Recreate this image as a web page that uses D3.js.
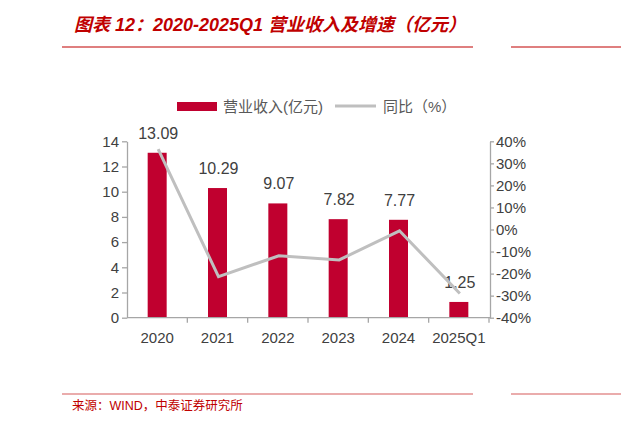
<!DOCTYPE html>
<html><head><meta charset="utf-8">
<script src="https://cdn.jsdelivr.net/npm/d3@7/dist/d3.min.js"></script>
<style>body{margin:0;background:#fff}svg{display:block}</style>
</head><body><svg id="c" width="621" height="425"></svg>
<script>
const categories = ["2020","2021","2022","2023","2024","2025Q1"];
const revenue = [13.09, 10.29, 9.07, 7.82, 7.77, 1.25];
const growth = [36.5, -21.4, -11.9, -13.8, -0.6, -29.0];
const leftTicks = [0,2,4,6,8,10,12,14];
const rightTicks = [-40,-30,-20,-10,0,10,20,30,40];

const svg = d3.select("#c");
const red = "#C0002F", txt = "#404040", axc = "#A6A6A6";
const font = "'Liberation Sans', Arial, 'Noto Sans CJK SC', sans-serif";

// title
svg.append("text").attr("x",74).attr("y",31)
  .attr("fill","#C00000").attr("font-family",font).attr("font-size",18)
  .attr("font-weight","bold").attr("font-style","italic")
  .text("图表 12：2020-2025Q1 营业收入及增速（亿元）");
[[47,"#C00000"],[394,"#D65A5A"]].forEach(([y,c])=>{
  svg.append("line").attr("x1",62).attr("x2",473).attr("y1",y).attr("y2",y).attr("stroke",c).attr("stroke-width",1.2);
  svg.append("line").attr("x1",511).attr("x2",621).attr("y1",y).attr("y2",y).attr("stroke",c).attr("stroke-width",1.2);
});
svg.append("text").attr("x",72).attr("y",410)
  .attr("fill","#C00000").attr("font-family",font).attr("font-size",12.5)
  .text("来源：WIND，中泰证券研究所");

const xb = d3.scaleBand().domain(categories).range([127,489]);
const yL = d3.scaleLinear().domain([0,14]).range([317.7,141.3]);
const yR = d3.scaleLinear().domain([-40,40]).range([317.7,141.3]);

// bars
svg.selectAll("rect.bar").data(revenue).join("rect").attr("class","bar")
  .attr("x",(d,i)=>xb(categories[i])+xb.bandwidth()/2-9.5)
  .attr("width",19)
  .attr("y",d=>yL(d)).attr("height",d=>yL(0)-yL(d)).attr("fill",red);

// labels
svg.selectAll("text.lab").data(revenue).join("text").attr("class","lab")
  .attr("x",(d,i)=>xb(categories[i])+xb.bandwidth()/2+1)
  .attr("y",d=>yL(d)-14).attr("text-anchor","middle")
  .attr("font-family",font).attr("font-size",16).attr("fill",txt)
  .text(d=>d.toFixed(2));

// line
svg.append("path").datum(growth)
  .attr("d",d3.line().x((d,i)=>xb(categories[i])+xb.bandwidth()/2+1).y(d=>yR(d)))
  .attr("fill","none").attr("stroke","#BFBFBF").attr("stroke-width",3);

// axes
function style(g){
  g.selectAll(".domain").attr("stroke",axc).attr("stroke-width",1.3);
  g.selectAll(".tick line").attr("stroke",axc).attr("stroke-width",1.3);
  g.selectAll("text").attr("fill",txt).attr("font-family",font).attr("font-size",15);
}
const gl = svg.append("g").attr("transform","translate(127,0)")
  .call(d3.axisLeft(yL).tickValues(leftTicks).tickSize(5).tickSizeOuter(0).tickPadding(3));
style(gl);
const gr = svg.append("g").attr("transform","translate(490,0)")
  .call(d3.axisRight(yR).tickValues(rightTicks).tickSize(4).tickSizeOuter(0).tickPadding(2).tickFormat(d=>d+"%"));
style(gr);
const gx = svg.append("g").attr("transform","translate(0,317.7)")
  .call(d3.axisBottom(xb).tickSize(0).tickPadding(15));
style(gx);
gx.selectAll(".domain").attr("d","M127,0H490");
// boundary ticks
gx.selectAll("line.bt").data(categories.slice(1).concat(["end"])).join("line").attr("class","bt")
  .attr("x1",(d,i)=>127+xb.step()*(i+1)).attr("x2",(d,i)=>127+xb.step()*(i+1))
  .attr("y1",0).attr("y2",5).attr("stroke",axc).attr("stroke-width",1.3);

// legend
svg.append("rect").attr("x",177).attr("y",102).attr("width",40).attr("height",9).attr("fill",red);
svg.append("text").attr("x",223).attr("y",112).attr("font-family",font).attr("font-size",15).attr("fill","#595959").text("营业收入(亿元)");
svg.append("line").attr("x1",335).attr("x2",376).attr("y1",106).attr("y2",106).attr("stroke","#BFBFBF").attr("stroke-width",3);
svg.append("text").attr("x",383).attr("y",112).attr("font-family",font).attr("font-size",15).attr("fill","#595959").text("同比（%）");
</script></body></html>
